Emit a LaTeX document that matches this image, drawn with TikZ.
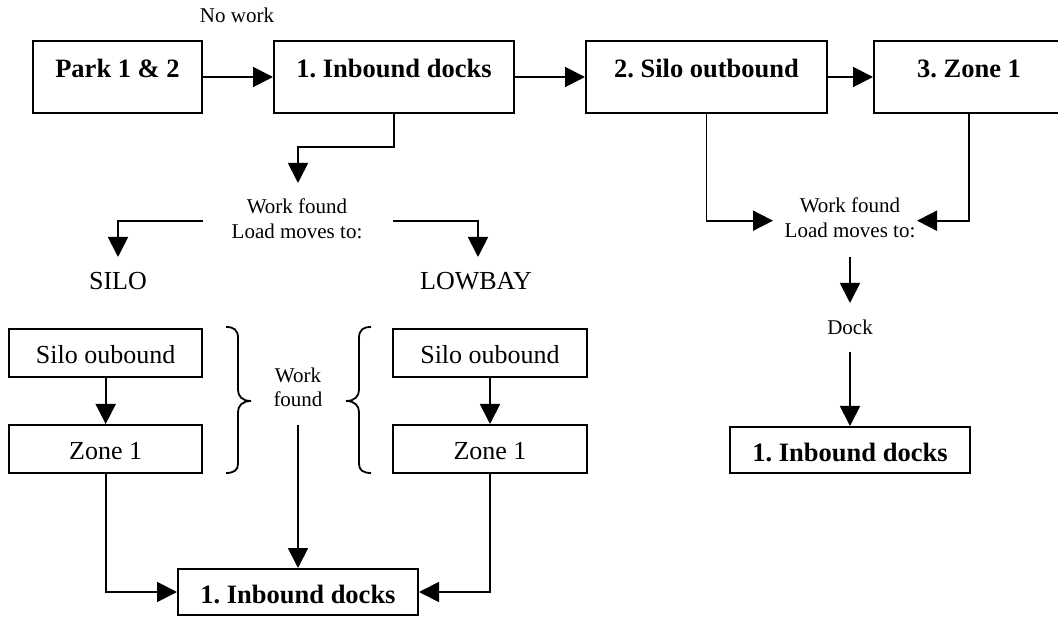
\documentclass[tikz,border=0pt]{standalone}
\usepackage{fontspec}
\setmainfont{Liberation Serif}
\usetikzlibrary{arrows.meta}
\newcommand{\fbig}{\fontsize{26.5}{30}\selectfont\bfseries}
\newcommand{\fmid}{\fontsize{26}{30}\selectfont}
\newcommand{\fsmall}{\fontsize{21}{25}\selectfont}
\frenchspacing
\begin{document}
\begin{tikzpicture}[x=1pt,y=-1pt,
  box/.style={draw, line width=2pt, inner sep=0pt, anchor=base},
  topbox/.style={box, font=\fbig, text height=36.7pt, text depth=35.3pt},
  smallbox/.style={box, font=\fmid, text height=35pt, text depth=13pt},
  docbox/.style={box, font=\fbig, text height=34pt, text depth=12pt},
  lbl/.style={inner sep=0pt, anchor=base, font=\fsmall},
  midlbl/.style={inner sep=0pt, anchor=base, font=\fmid},
  arr/.style={line width=1.8pt, -{Triangle[length=20pt,width=20pt]}},
  brc/.style={line width=1.8pt}]
\useasboundingbox (0,0) rectangle (1058,617);
\clip (0,0) rectangle (1058,617);
\fill[white] (0,0) rectangle (1058,617);

% top row
\node[topbox, minimum width=169pt] (park) at (117.5,77.7) {Park 1 \& 2};
\node[topbox, minimum width=240pt] (inb) at (394,77.7) {1. Inbound docks};
\node[topbox, minimum width=241pt] (silo) at (706.5,77.7) {2. Silo outbound};
\node[topbox, minimum width=190pt] (zone) at (969,77.7) {3. Zone 1};
\node[lbl] (nowork) at (237,23) {No work};

\draw[arr] (park.east) -- (inb.west);
\draw[arr] (inb.east) -- (silo.west);
\draw[arr] (silo.east) -- (zone.west);

% left decision
\coordinate (c1) at (298,183);
\draw[arr] (inb.south) -- ++(0,33) -| (c1);
\node[lbl] (wfa) at (297,214) {Work found};
\node[lbl] (wfb) at (297,239) {Load moves to:};
\coordinate (la) at (203,220.7);
\coordinate (lt) at (118,257);
\coordinate (ra) at (393,220.7);
\coordinate (rt) at (478,257);
\draw[arr] (la) -| (lt);
\draw[arr] (ra) -| (rt);
\node[midlbl] (silolbl) at (118,290) {SILO};
\node[midlbl] (lowlbl) at (476,290) {LOWBAY};

% lower boxes
\node[smallbox, minimum width=193pt] (so1) at (105.7,364) {Silo oubound};
\node[smallbox, minimum width=193pt] (z1) at (105.7,460) {Zone 1};
\node[smallbox, minimum width=194pt] (so2) at (490,364) {Silo oubound};
\node[smallbox, minimum width=194pt] (z2) at (490,460) {Zone 1};
\draw[arr] (so1.south) -- (z1.north);
\draw[arr] (so2.south) -- (z2.north);

% braces
\draw[brc] (226,327) .. controls (234,327) and (238,330) .. (238,338)
  -- (238,390) .. controls (238,396) and (242,401) .. (251,401)
  .. controls (242,401) and (238,406) .. (238,412)
  -- (238,464) .. controls (238,470) and (234,473) .. (226,473);
\draw[brc] (371,327) .. controls (363,327) and (359,330) .. (359,338)
  -- (359,390) .. controls (359,396) and (355,401) .. (346,401)
  .. controls (355,401) and (359,406) .. (359,412)
  -- (359,464) .. controls (359,470) and (363,473) .. (371,473);
\node[lbl] (wka) at (298,383) {Work};
\node[lbl] (wkb) at (298,407) {found};

% bottom-left inbound
\node[docbox, minimum width=240pt] (inbB) at (298,603) {1. Inbound docks};
\coordinate (m1) at (298,425);
\draw[arr] (m1) -- (inbB.north);
\draw[arr] (z1.south) |- (inbB.west);
\draw[arr] (z2.south) |- (inbB.east);

% right decision
\coordinate (r1) at (773,220.7);
\coordinate (r2) at (917,220.7);
\draw[arr] (silo.south) |- (r1);
\draw[arr] (zone.south) |- (r2);
\node[lbl] (wfc) at (850,213) {Work found};
\node[lbl] (wfd) at (850,238) {Load moves to:};
\coordinate (d1) at (850,257);
\coordinate (d2) at (850,303);
\draw[arr] (d1) -- (d2);
\node[lbl] (dock) at (850,335) {Dock};
\node[docbox, minimum width=240pt] (inbR) at (850,461) {1. Inbound docks};
\coordinate (d3) at (850,352);
\draw[arr] (d3) -- (inbR.north);
\end{tikzpicture}
\end{document}
